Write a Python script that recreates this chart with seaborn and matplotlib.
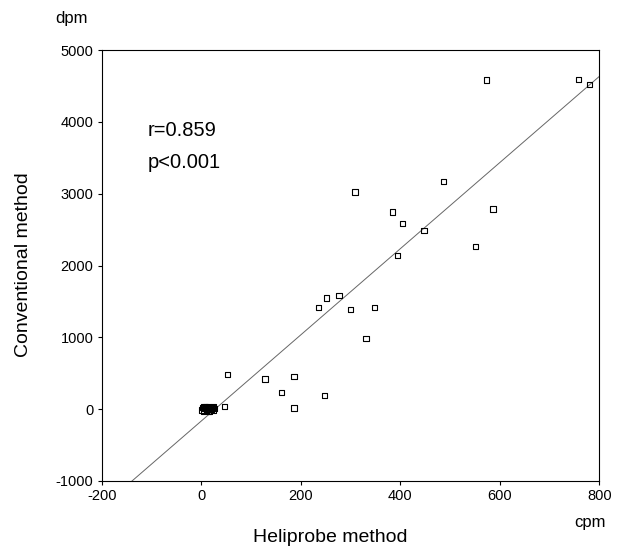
import numpy as np
import pandas as pd
import matplotlib
matplotlib.use('Agg')
import matplotlib.pyplot as plt
import seaborn as sns

# values
heliprobe_cpm = [573, 758, 780, 309, 487, 384, 405, 448, 586, 551, 394,
                 252, 277, 235, 300, 348, 331, 186, 161, 247, 186, 53,
                 128, 46,
                 0, 2, 4, 6, 8, 10, 12, 14, 16, 18, 20, 22, 24, 26, 5, 15, 25]
conventional_dpm = [4582, 4592, 4517, 3024, 3170, 2745, 2584, 2490, 2787, 2263, 2141,
                    1546, 1583, 1416, 1384, 1416, 988, 458, 230, 193, 17, 480,
                    420, 35,
                    -10, 25, -25, 10, 30, -15, 0, 35, -30, 15, -5, 20, -20, 5, 40, -35, 30]
x_ticks = [-200, 0, 200, 400, 600, 800]
y_ticks = [-1000, 0, 1000, 2000, 3000, 4000, 5000]
stats_text = ['r=0.859', 'p<0.001']

df = pd.DataFrame({'cpm': heliprobe_cpm, 'dpm': conventional_dpm})

sns.set_style('ticks')
plt.rcParams['font.family'] = ['Liberation Sans', 'DejaVu Sans']
plt.rcParams['axes.unicode_minus'] = False
plt.rcParams['text.color'] = 'black'
plt.rcParams['xtick.color'] = 'black'
plt.rcParams['ytick.color'] = 'black'

fig = plt.figure(figsize=(6.21, 5.5), dpi=100)
ax = fig.add_axes([0.164, 0.1255, 0.801, 0.7835])
ax.set_xlim(-200, 800)
ax.set_ylim(-1000, 5000)

# regression line over full axis range (clipped by the frame)
sns.regplot(data=df, x='cpm', y='dpm', ax=ax, scatter=False, ci=None,
            truncate=False, line_kws={'color': '#666666', 'linewidth': 0.7})
sns.scatterplot(data=df, x='cpm', y='dpm', ax=ax, marker='s', s=15,
                facecolor='none', edgecolor='black', linewidth=0.8, zorder=3)

ax.set_xlim(-200, 800)
ax.set_ylim(-1000, 5000)
ax.set_xticks(x_ticks)
ax.set_yticks(y_ticks)
ax.tick_params(labelsize=10.5, length=3, width=0.8, color='black', pad=3)
for sp in ax.spines.values():
    sp.set_visible(True)
    sp.set_linewidth(0.8)
    sp.set_color('black')

ax.set_xlabel('')
ax.set_ylabel('')
fig.text(330 / 621, 1 - 538 / 550, 'Heliprobe method', ha='center', va='center', fontsize=14)
fig.text(24 / 621, 1 - 265 / 550, 'Conventional method', ha='center', va='center',
         rotation=90, fontsize=14)
fig.text(72 / 621, 1 - 19 / 550, 'dpm', ha='center', va='center', fontsize=12)
fig.text(590 / 621, 1 - 522 / 550, 'cpm', ha='center', va='center', fontsize=12)

ax.text(148 / 621, 1 - 130 / 550, stats_text[0], transform=fig.transFigure,
        ha='left', va='center', fontsize=14.5)
ax.text(148 / 621, 1 - 163 / 550, stats_text[1], transform=fig.transFigure,
        ha='left', va='center', fontsize=14.5)

fig.savefig('out.png', dpi=100)
